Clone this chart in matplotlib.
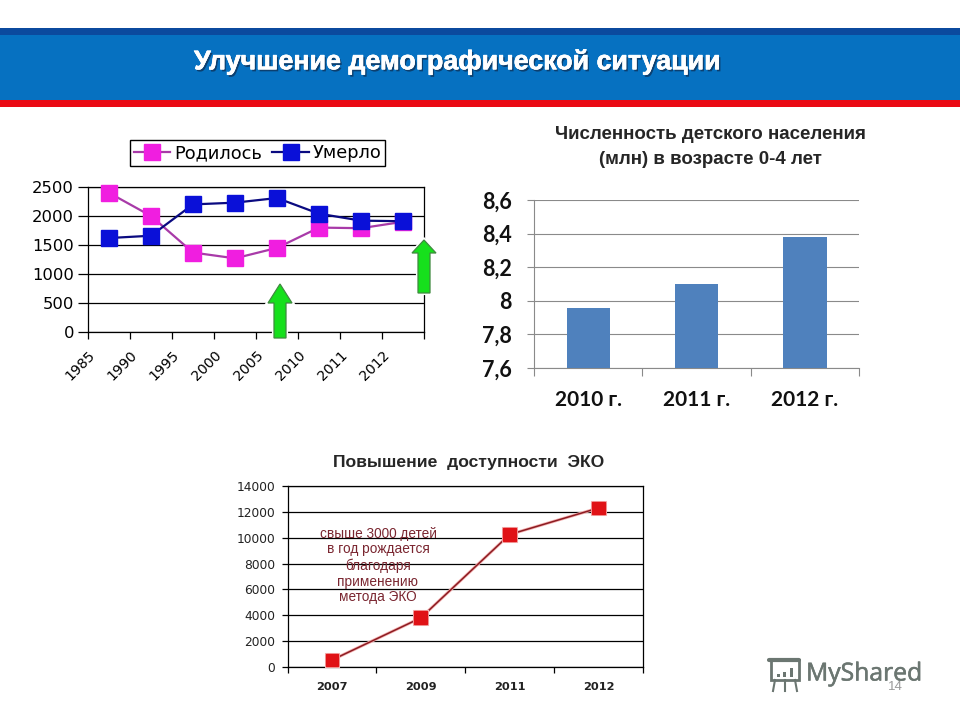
import matplotlib
matplotlib.use("Agg")
import matplotlib.pyplot as plt
import matplotlib.patheffects as pe
from matplotlib.patches import Rectangle, Polygon
from matplotlib.transforms import ScaledTranslation

W, H = 960, 720

# ---- data ----
years_demo = ["1985", "1990", "1995", "2000", "2005", "2010", "2011", "2012"]
born = [2400, 2000, 1370, 1270, 1450, 1800, 1790, 1900]
died = [1620, 1660, 2200, 2230, 2310, 2040, 1920, 1910]
ticks_demo = [0, 500, 1000, 1500, 2000, 2500]

years_kids = ["2010 г.", "2011 г.", "2012 г."]
kids = [7.96, 8.10, 8.38]
ticks_kids = [7.6, 7.8, 8.0, 8.2, 8.4, 8.6]
tick_labels_kids = ["7,6", "7,8", "8", "8,2", "8,4", "8,6"]

years_eco = ["2007", "2009", "2011", "2012"]
eco = [540, 3800, 10250, 12300]
ticks_eco = [0, 2000, 4000, 6000, 8000, 10000, 12000, 14000]

title_main = "Улучшение демографической ситуации"
title_kids = "Численность детского населения\n(млн) в возрасте 0-4 лет"
title_eco = "Повышение  доступности  ЭКО"
note_eco = "свыше 3000 детей\nв год рождается\nблагодаря\nприменению\nметода ЭКО"


def axes_px(fig, x0, x1, y_top, y_bottom, **kw):
    return fig.add_axes([x0 / W, 1 - y_bottom / H, (x1 - x0) / W, (y_bottom - y_top) / H], **kw)


fig = plt.figure(figsize=(W / 100, H / 100), dpi=100, facecolor="white")

# page-level layer in pixel coordinates
bg = fig.add_axes([0, 0, 1, 1], zorder=0)
bg.set_xlim(0, W)
bg.set_ylim(H, 0)
bg.axis("off")
bg.add_patch(Rectangle((0, 28), W, 8, color="#0b4a9e", lw=0))
bg.add_patch(Rectangle((0, 35), W, 66, color="#0671c1", lw=0))
bg.add_patch(Rectangle((0, 100), W, 7, color="#ea0a14", lw=0))
bg.text(194, 62, title_main, color="white", fontsize=19.3, fontweight="bold",
        family="Liberation Sans", va="center", ha="left",
        path_effects=[pe.withSimplePatchShadow(offset=(1.2, -1.5), shadow_rgbFace="#0d3a66", alpha=0.9),
                      pe.Stroke(linewidth=0.4, foreground="white"), pe.Normal()])
bg.text(710, 147, title_kids, color="#262626", fontsize=13.5, fontweight="bold",
        family="Liberation Sans", va="center", ha="center", linespacing=1.55)
bg.text(469, 462, title_eco, color="#262626", fontsize=12.6, fontweight="bold",
        family="Liberation Sans", va="center", ha="center")

# ---- chart 1: births / deaths ----
ax1 = axes_px(fig, 88, 424, 187, 332, zorder=2)
ax1.patch.set_alpha(0)
x1 = [i + 0.5 for i in range(len(born))]
l1, = ax1.plot(x1, born, color="#a83aa8", lw=1.6, marker="s", ms=12.2, mfc="#f01ee0", mec="#f01ee0",
               label="Родилось", clip_on=False, zorder=3)
l2, = ax1.plot(x1, died, color="#0a0a80", lw=1.6, marker="s", ms=12.2, mfc="#0a10d8", mec="#0a10d8",
               label="Умерло", clip_on=False, zorder=4)
ax1.set_xlim(0, 8)
ax1.set_ylim(0, 2500)
ax1.set_yticks(ticks_demo)
ax1.set_xticks(range(len(years_demo) + 1))
ax1.set_xticklabels(years_demo + [""], rotation=45, ha="right", rotation_mode="anchor",
                    fontsize=10.2, family="DejaVu Sans")
shift = ScaledTranslation(-3 / 100, 0, fig.dpi_scale_trans)
for lab in ax1.get_xticklabels():
    lab.set_transform(lab.get_transform() + shift)
ax1.tick_params(axis="x", length=5, width=0.9, pad=6.5, color="black")
ax1.tick_params(axis="y", length=7, width=0.9, labelsize=11.8, pad=3, color="black")
ax1.grid(axis="y", color="black", lw=0.9, zorder=0)
ax1.set_axisbelow(True)
for s in ("top", "right", "left", "bottom"):
    ax1.spines[s].set_linewidth(0.9)
leg = fig.legend(handles=[l1, l2], loc="center", bbox_to_anchor=(257.5 / W, 1 - 153 / H),
                 ncol=2, frameon=True, fancybox=False, edgecolor="black", framealpha=1,
                 fontsize=12.8, markerscale=0.9, columnspacing=0.6, handletextpad=0.2,
                 handlelength=2.05, borderpad=0.2, borderaxespad=0)
leg.get_frame().set_linewidth(1.0)
leg.set_zorder(5)

# ---- chart 2: children ----
ax2 = axes_px(fig, 534, 859, 200, 368, zorder=2)
ax2.patch.set_alpha(0)
x2 = list(range(len(kids)))
ax2.bar(x2, kids, width=0.4, color="#4f81bd", zorder=3)
ax2.set_xlim(-0.5, 2.5)
ax2.set_ylim(7.6, 8.6)
ax2.set_yticks(ticks_kids)
ax2.set_yticklabels(tick_labels_kids, fontsize=15.5, fontweight="bold", family="Lato", color="#111111")
ax2.set_xticks(x2)
ax2.set_xticklabels(years_kids, fontsize=15, fontweight="bold", family="Lato", color="#111111")
ax2.set_xticks([-0.5, 0.5, 1.5, 2.5], minor=True)
ax2.tick_params(axis="x", which="major", length=0, pad=16)
ax2.tick_params(axis="x", which="minor", length=6, width=0.8, color="#8a8a8a")
ax2.tick_params(axis="y", length=5, width=0.8, color="#8a8a8a", pad=11)
ax2.grid(axis="y", color="#8a8a8a", lw=0.8, zorder=0)
ax2.set_axisbelow(True)
ax2.spines["top"].set_visible(False)
ax2.spines["right"].set_visible(False)
ax2.spines["left"].set_color("#8a8a8a")
ax2.spines["bottom"].set_color("#8a8a8a")

# ---- chart 3: IVF ----
ax3 = axes_px(fig, 287.5, 643, 486, 667, zorder=2)
ax3.patch.set_alpha(0)
x3 = list(range(len(eco)))
ax3.plot(x3, eco, color="#8c1c22", lw=1.1, marker="s", ms=9.2, mfc="#e01216", mec="#e01216",
         clip_on=False, zorder=3,
         path_effects=[pe.Stroke(linewidth=2.2, foreground="#f4b0b0"), pe.Normal()])
ax3.set_xlim(-0.5, 3.5)
ax3.set_ylim(0, 14000)
ax3.set_yticks(ticks_eco)
ax3.set_xticks(x3)
ax3.set_xticklabels(years_eco, fontsize=8.2, fontweight="bold", family="DejaVu Sans", color="#222222")
ax3.set_xticks([-0.5, 0.5, 1.5, 2.5, 3.5], minor=True)
ax3.tick_params(axis="x", which="major", length=0, pad=11)
ax3.tick_params(axis="x", which="minor", length=4, width=0.9)
ax3.tick_params(axis="y", length=4, width=0.9, labelsize=8.8, pad=5, labelcolor="#222222")
ax3.grid(axis="y", color="black", lw=0.9, zorder=0)
ax3.set_axisbelow(True)
for s in ("top", "right", "left", "bottom"):
    ax3.spines[s].set_linewidth(0.9)

# ---- overlay: arrows, note, logo ----
ov = fig.add_axes([0, 0, 1, 1], zorder=10)
ov.patch.set_alpha(0)
ov.axis("off")


def up_arrow(cx, tip, base, bottom, head=12, shaft=6):
    pts = [(cx, tip), (cx + head, base), (cx + shaft, base), (cx + shaft, bottom),
           (cx - shaft, bottom), (cx - shaft, base), (cx - head, base)]
    ov.add_patch(Polygon(pts, closed=True, facecolor="#16e01c", edgecolor="#3f8a3f", lw=0.9,
                         path_effects=[pe.Stroke(linewidth=3.0, foreground="white"), pe.Normal()]))


up_arrow(280, 284, 303, 338)
up_arrow(424, 240, 253, 293)

ov.text(378, 565.5, note_eco, color="#7a2630", fontsize=9.8, family="Liberation Sans",
        ha="center", va="center", linespacing=1.17)
ov.text(895, 687, "14", color="#9a9a9a", fontsize=9.5, family="Liberation Sans", ha="center", va="center")

logo = "#6b7671"
ov.text(806, 674, "MyShared", color=logo, fontsize=17.8, family="Open Sans", ha="left", va="center",
        path_effects=[pe.withStroke(linewidth=0.4, foreground=logo)])
ov.add_patch(Rectangle((771, 660), 28, 20, fc="white", ec=logo, lw=2))
ov.plot([769, 799], [660, 660], color=logo, lw=3, solid_capstyle="round")
ov.plot([775, 773], [680, 691], color=logo, lw=1.5)
ov.plot([785, 785], [680, 691], color=logo, lw=1.5)
ov.plot([795, 797], [680, 691], color=logo, lw=1.5)
for bx, bh in zip((778, 784, 791), (3, 5, 9)):
    ov.add_patch(Rectangle((bx - 1.5, 677 - bh), 3, bh, color=logo, lw=0))
ov.set_xlim(0, W)
ov.set_ylim(H, 0)

fig.savefig("out.png", dpi=100)
